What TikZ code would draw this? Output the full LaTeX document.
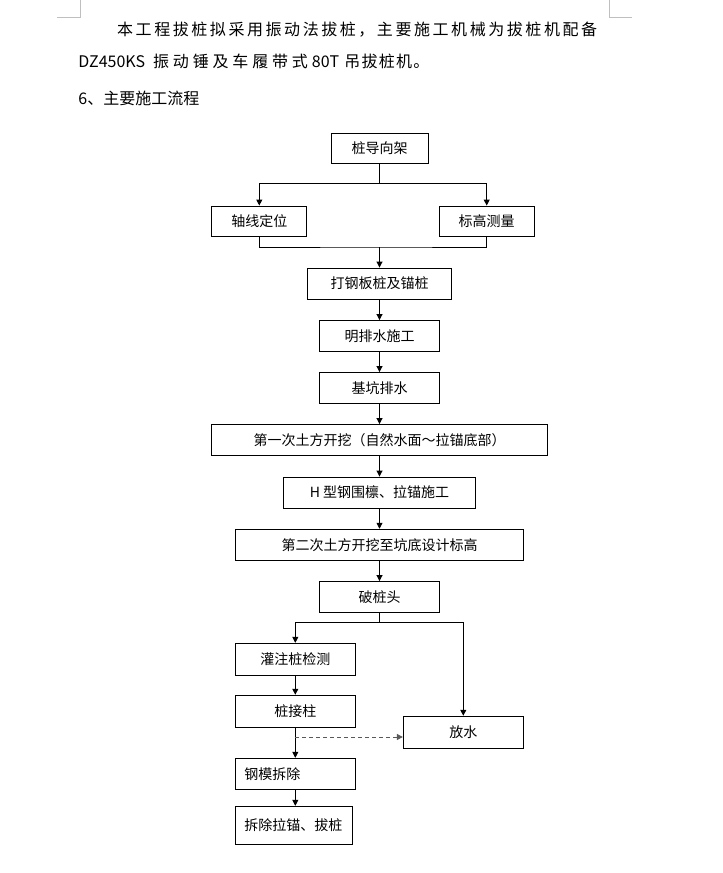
\documentclass[tikz,border=0pt]{standalone}
\usepackage{fontspec}
\setmainfont{Noto Sans CJK SC}
\usetikzlibrary{arrows.meta}
\begin{document}
\begin{tikzpicture}
			[x=1pt, y=-1pt, line width=0.9pt, font=\fontsize{14}{16}\selectfont,
			box/.style={draw, inner sep=0pt, minimum height=31pt},
			lbox/.style={draw, inner xsep=9pt, inner ysep=0pt, minimum height=31pt, text width=102pt, align=left},
			txt/.style={anchor=west, inner sep=0pt, font=\fontsize{16}{18}\selectfont},
			arr/.style={-{Triangle[length=6pt,width=6pt]}},
			dline/.style={arr, draw=black!65, dash pattern=on 4pt off 3pt}]
			\useasboundingbox (0,0) rectangle (723,873);
			\draw[black!25, line width=0.6pt] (57,17) -- (80,17) -- (80,0);
			\draw[black!25, line width=0.6pt] (609,0) -- (609,17) -- (632,17);
			\node[txt] (t1) at (116.7,30) {\addfontfeature{LetterSpace=16}本工程拔桩拟采用振动法拔桩，主要施工机械为拔桩机配备};
			\node[txt] (t2) at (78,61) {DZ450KS\hspace{8pt}{\addfontfeature{LetterSpace=24}振动锤及车履带式}\hspace{4pt}80T\hspace{5pt}{\addfontfeature{LetterSpace=8}吊拔桩机。}};
			\node[txt] (t3) at (78,98) {6、主要施工流程};
			\node[box, minimum width=97pt, minimum height=30pt] (a) at (379.5,148) {桩导向架};
			\node[box, minimum width=95pt, minimum height=30pt] (b) at (259.3,221) {轴线定位};
			\node[box, minimum width=95pt, minimum height=30pt] (c) at (486.7,221) {标高测量};
			\node[box, minimum width=144pt] (d) at (379.5,283.5) {打钢板桩及锚桩};
			\node[box, minimum width=120pt] (e) at (379.5,336) {明排水施工};
			\node[box, minimum width=120pt] (f) at (379.5,388) {基坑排水};
			\node[box, minimum width=336pt] (g) at (379.5,440) {第一次土方开挖（自然水面～拉锚底部）};
			\node[box, minimum width=192pt] (h) at (379.5,492.5) {H 型钢围檩、拉锚施工};
			\node[box, minimum width=288pt] (i) at (379.5,544.7) {第二次土方开挖至坑底设计标高};
			\node[box, minimum width=120pt] (j) at (379.5,597) {破桩头};
			\node[box, minimum width=120pt, minimum height=32pt] (k) at (295.3,659.3) {灌注桩检测};
			\node[box, minimum width=120pt, minimum height=32pt] (l) at (295.3,711.2) {桩接柱};
			\node[box, minimum width=120pt, minimum height=32pt] (m) at (463.3,732.2) {放水};
			\node[lbox] (n) at (295.3,773.8) {钢模拆除};
			\node[lbox, text width=99pt, minimum height=38pt] (o) at (293.8,825.3) {拆除拉锚、拔桩};
			\coordinate (ab) at (379.5,183);
			\coordinate (bc) at (379.5,247);
			\coordinate (jk) at (379.5,622);
			\coordinate (q) at (295.3,737);
			\draw[arr] (a) -- (ab) -| (b);
			\draw[arr] (ab) -| (c);
			\draw (b) |- (bc) -| (c);
			\draw[arr] (bc) -- (d);
			\draw (d) edge[arr] (e);
			\draw (e) edge[arr] (f);
			\draw (f) edge[arr] (g);
			\draw (g) edge[arr] (h);
			\draw (h) edge[arr] (i);
			\draw (i) edge[arr] (j);
			\draw[arr] (j) -- (jk) -| (k);
			\draw[arr] (jk) -| (m);
			\draw (k) edge[arr] (l);
			\draw (l) edge[arr] (n);
			\draw[arr] (n.south) -- (n.south |- o.north);
			\draw[dline] (q) -- (q -| m.west);
			\end{tikzpicture}
\end{document}
